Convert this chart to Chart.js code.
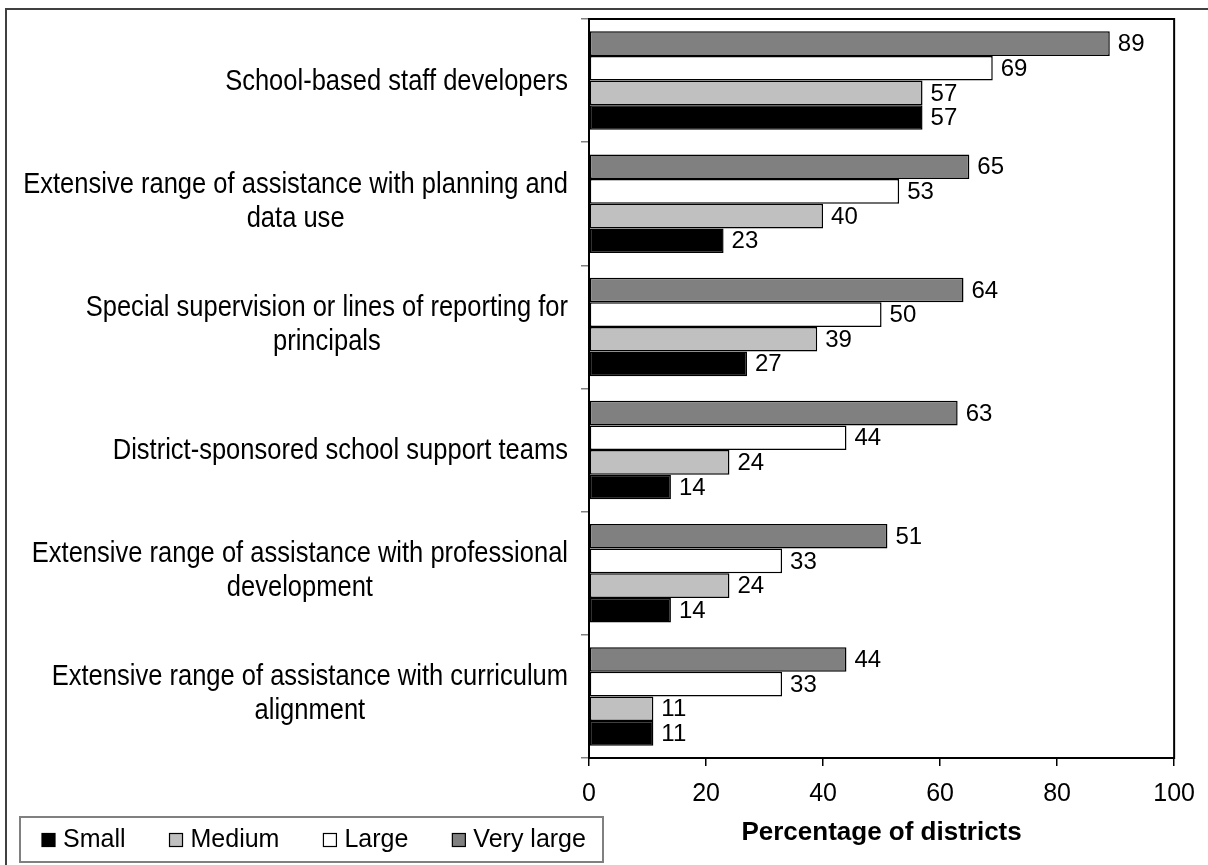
<!DOCTYPE html>
<html><head><meta charset="utf-8">
<script src="https://cdn.jsdelivr.net/npm/chart.js@4.4.1/dist/chart.umd.min.js"></script>
<style>
html,body{margin:0;padding:0;background:#fff;overflow:hidden}
#wrap{position:relative;width:1208px;height:865px;overflow:hidden}
#frame{position:absolute;left:5px;top:8px;width:1400px;height:1000px;border-left:2px solid #404040;border-top:2px solid #404040}
canvas{position:absolute;left:0;top:0}
</style></head><body>
<div id="wrap"><div id="frame"></div><canvas id="c" width="1208" height="865"></canvas></div>
<script>
const categories = [
  ["School-based staff developers"],
  ["Extensive range of assistance with planning and", "data use"],
  ["Special supervision or lines of reporting for", "principals"],
  ["District-sponsored school support teams"],
  ["Extensive range of assistance with professional", "development"],
  ["Extensive range of assistance with curriculum", "alignment"]
];
const seriesNames = ["Very large", "Large", "Medium", "Small"];
const seriesColors = ["#808080", "#ffffff", "#c0c0c0", "#000000"];
const veryLarge = [89, 65, 64, 63, 51, 44];
const large = [69, 53, 50, 44, 33, 33];
const medium = [57, 40, 39, 24, 24, 11];
const small = [57, 23, 27, 14, 14, 11];
const legendOrder = ["Small", "Medium", "Large", "Very large"];
const xTickValues = [0, 20, 40, 60, 80, 100];
const xTitle = "Percentage of districts";

const FONT = '"Liberation Sans", Arial, sans-serif';
const seriesData = [veryLarge, large, medium, small];

const frameAndLabels = {
  id: 'frameAndLabels',
  afterDatasetsDraw(chart) {
    const ctx = chart.ctx;
    const a = chart.chartArea;
    ctx.save();
    ctx.strokeStyle = '#000';
    ctx.lineWidth = 2;
    ctx.strokeRect(a.left, a.top, a.right - a.left, a.bottom - a.top);
    // value labels
    ctx.fillStyle = '#000';
    ctx.font = '24px ' + FONT;
    ctx.textAlign = 'left';
    ctx.textBaseline = 'middle';
    chart.data.datasets.forEach((ds, di) => {
      const meta = chart.getDatasetMeta(di);
      meta.data.forEach((bar, i) => {
        ctx.fillText(String(ds.data[i]), bar.x + 8, bar.y + 1);
      });
    });
    // category labels (block right-aligned, lines centered)
    const ys = chart.scales.y;
    const sx = 0.88;
    ctx.font = '29px ' + FONT;
    ctx.textAlign = 'center';
    ctx.textBaseline = 'middle';
    const lh = 34;
    categories.forEach((lines, i) => {
      const y = ys.getPixelForTick(i);
      let w = 0;
      lines.forEach(l => { w = Math.max(w, ctx.measureText(l).width * sx); });
      const cx = 568 - w / 2;
      const y0 = y - (lines.length - 1) * lh / 2 + (lines.length > 1 ? -2 : 1);
      lines.forEach((l, k) => {
        ctx.save();
        ctx.translate(cx, y0 + k * lh);
        ctx.scale(sx, 1);
        ctx.fillText(l, 0, 0);
        ctx.restore();
      });
    });
    ctx.restore();
  },
  afterDraw(chart) {
    const ctx = chart.ctx;
    ctx.save();
    // legend box
    const bx = 20, by = 817, bw = 583, bh = 45;
    ctx.strokeStyle = '#808080';
    ctx.lineWidth = 2;
    ctx.strokeRect(bx, by, bw, bh);
    ctx.font = '25px ' + FONT;
    ctx.textAlign = 'left';
    ctx.textBaseline = 'middle';
    const cy = by + bh / 2 + 1;
    let x = 42;
    legendOrder.forEach(name => {
      const idx = seriesNames.indexOf(name);
      ctx.fillStyle = seriesColors[idx];
      ctx.fillRect(x, cy - 7, 13, 13);
      ctx.strokeStyle = '#000';
      ctx.lineWidth = 1.2;
      ctx.strokeRect(x, cy - 7, 13, 13);
      ctx.fillStyle = '#000';
      ctx.fillText(name, x + 21, cy);
      x += 21 + ctx.measureText(name).width + 44;
    });
    ctx.restore();
  }
};

new Chart(document.getElementById('c'), {
  type: 'bar',
  data: {
    labels: categories,
    datasets: seriesNames.map((n, i) => ({
      label: n,
      data: seriesData[i],
      backgroundColor: seriesColors[i],
      borderColor: '#000',
      borderWidth: 1.5,
      borderSkipped: false,
      categoryPercentage: 0.8,
      barPercentage: 1.0
    }))
  },
  options: {
    indexAxis: 'y',
    responsive: false,
    animation: false,
    devicePixelRatio: 1,
    layout: { padding: { top: 19, right: 33, left: 0, bottom: 0 } },
    plugins: { legend: { display: false }, tooltip: { enabled: false } },
    scales: {
      x: {
        min: 0, max: 100,
        afterBuildTicks(s) { s.ticks = xTickValues.map(v => ({ value: v })); },
        ticks: { font: { family: FONT, size: 25 }, color: '#000', padding: 13, maxRotation: 0 },
        grid: { drawOnChartArea: false, drawTicks: true, tickLength: 8, color: '#000', lineWidth: 1.5 },
        border: { display: false },
        title: { display: true, text: xTitle, color: '#000', font: { family: FONT, size: 26, weight: 'bold' }, padding: { top: 0, bottom: 17 } },
        afterFit(s) { s.height = 865 - 758; }
      },
      y: {
        ticks: { display: false },
        grid: { drawOnChartArea: false, drawTicks: true, tickLength: 8, color: '#808080', lineWidth: 1.5, offset: true },
        border: { display: false },
        afterFit(s) { s.width = 589; }
      }
    }
  },
  plugins: [frameAndLabels]
});
</script>
</body></html>
